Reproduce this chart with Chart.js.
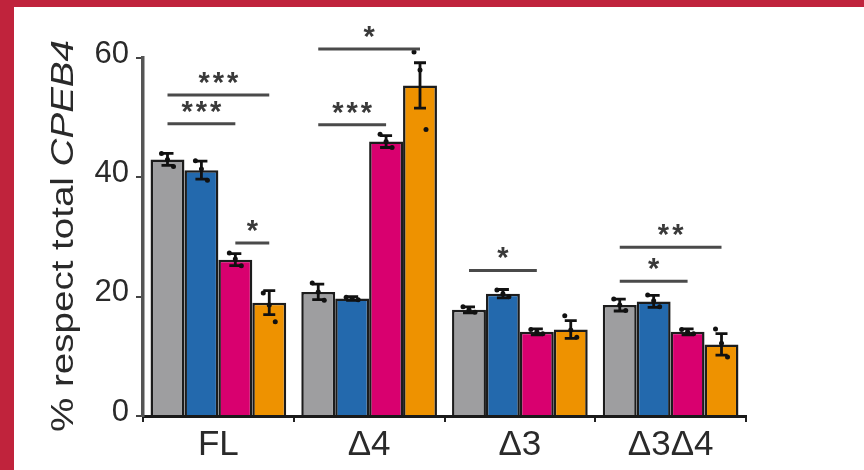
<!DOCTYPE html>
<html lang="en">
<head>
    <meta charset="UTF-8">
    <title>CPEB4 isoforms</title>
    <script src="https://cdn.jsdelivr.net/npm/chart.js"></script>
    <style>
        body { margin: 0; background: #fff; }
        canvas { display: block; }
    </style>
</head>
<body>
    <canvas id="myChart" width="864" height="470"></canvas>
    <script>
        // Categories and bar means
        const groups = ['FL', 'Δ4', 'Δ3', 'Δ3Δ4'];
        const grayMean = [43.0, 20.8, 17.8, 18.6];
        const blueMean = [41.2, 19.7, 20.5, 19.2];
        const pinkMean = [26.2, 46.0, 14.1, 14.1];
        const orangeMean = [19.0, 55.4, 14.5, 12.0];

        // Error bar half-heights
        const grayErr = [1.0, 1.3, 0.5, 1.0];
        const blueErr = [1.5, 0.3, 0.7, 1.0];
        const pinkErr = [1.0, 1.0, 0.5, 0.5];
        const orangeErr = [2.0, 3.8, 1.5, 1.8];

        // Individual replicates, one list per group
        const grayPts = [[44.0, 43.0, 41.8], [22.3, 20.8, 19.4], [18.3, 17.8, 17.4], [19.6, 18.6, 17.7]];
        const bluePts = [[42.8, 41.4, 39.5], [19.9, 19.7, 19.5], [21.1, 20.5, 20.0], [20.3, 19.3, 18.3]];
        const pinkPts = [[27.3, 26.3, 25.2], [47.2, 46.0, 45.0], [14.5, 14.1, 13.8], [14.5, 14.1, 13.8]];
        const orangePts = [[20.6, 18.6, 15.8], [61.0, 58.0, 48.0], [16.8, 14.4, 13.2], [14.6, 12.2, 9.9]];

        // Significance brackets: group, series from/to, height, label
        const brackets = [
            { group: 0, from: 0, to: 3, y: 53.8, label: '***' },
            { group: 0, from: 0, to: 2, y: 49.0, label: '***' },
            { group: 0, from: 2, to: 3, y: 29.0, label: '*' },
            { group: 1, from: 0, to: 3, y: 61.5, label: '*' },
            { group: 1, from: 0, to: 2, y: 48.8, label: '***' },
            { group: 2, from: 0, to: 2, y: 24.4, label: '*' },
            { group: 3, from: 0, to: 3, y: 28.3, label: '**' },
            { group: 3, from: 0, to: 2, y: 22.6, label: '*' }
        ];

        const colors = ['#9e9ea0', '#2369ad', '#d9006f', '#ee9200'];
        const means = [grayMean, blueMean, pinkMean, orangeMean];
        const errs = [grayErr, blueErr, pinkErr, orangeErr];
        const pts = [grayPts, bluePts, pinkPts, orangePts];
        const font = "'Liberation Sans', Arial, sans-serif";

        const decorations = {
            id: 'decorations',
            beforeDraw(chart) {
                const ctx = chart.ctx;
                ctx.save();
                ctx.fillStyle = '#fff';
                ctx.fillRect(0, 0, chart.width, chart.height);
                ctx.fillStyle = '#c0233c';
                ctx.fillRect(0, 0, chart.width, 7);
                ctx.fillRect(0, 0, 14, chart.height);
                ctx.restore();
            },
            afterDatasetsDraw(chart) {
                const ctx = chart.ctx;
                const y = chart.scales.y;
                ctx.save();
                // error bars and replicate dots
                means.forEach((m, s) => {
                    const meta = chart.getDatasetMeta(s);
                    meta.data.forEach((bar, g) => {
                        const x = bar.x;
                        const top = y.getPixelForValue(m[g] + errs[s][g]);
                        const bot = y.getPixelForValue(m[g] - errs[s][g]);
                        ctx.strokeStyle = '#111';
                        ctx.lineWidth = 2.8;
                        ctx.beginPath();
                        ctx.moveTo(x, top); ctx.lineTo(x, bot);
                        ctx.moveTo(x - 6, top); ctx.lineTo(x + 6, top);
                        ctx.moveTo(x - 6, bot); ctx.lineTo(x + 6, bot);
                        ctx.stroke();
                        ctx.fillStyle = '#111';
                        pts[s][g].forEach((v, i) => {
                            ctx.beginPath();
                            ctx.arc(x + (i - 1) * 6, y.getPixelForValue(v), 2.5, 0, Math.PI * 2);
                            ctx.fill();
                        });
                    });
                });
                // brackets
                ctx.strokeStyle = '#4a4a4a';
                ctx.fillStyle = '#3a3a3a';
                ctx.lineWidth = 3;
                ctx.font = 'bold 29px ' + font;
                ctx.letterSpacing = '3px';
                ctx.textAlign = 'center';
                ctx.textBaseline = 'alphabetic';
                brackets.forEach(b => {
                    const x1 = chart.getDatasetMeta(b.from).data[b.group].x;
                    const x2 = chart.getDatasetMeta(b.to).data[b.group].x;
                    const yy = y.getPixelForValue(b.y);
                    ctx.beginPath();
                    ctx.moveTo(x1, yy); ctx.lineTo(x2, yy);
                    ctx.stroke();
                    ctx.fillText(b.label, (x1 + x2) / 2 + 1.5, yy - 3);
                });
                ctx.letterSpacing = '0px';
                // y axis title with italic gene name
                const part1 = '% respect total ';
                const part2 = 'CPEB4';
                ctx.font = '31px ' + font;
                const w1 = ctx.measureText(part1).width;
                ctx.font = 'italic 31px ' + font;
                const w2 = ctx.measureText(part2).width;
                const total = w1 + w2;
                ctx.translate(64, 236);
                ctx.rotate(-Math.PI / 2);
                ctx.scale(392 / total, 1);
                ctx.fillStyle = '#2a2a2a';
                ctx.textAlign = 'left';
                ctx.textBaseline = 'middle';
                ctx.font = '31px ' + font;
                ctx.fillText(part1, -total / 2, 0);
                ctx.font = 'italic 31px ' + font;
                ctx.fillText(part2, -total / 2 + w1, 0);
                ctx.restore();
            }
        };

        const ctx = document.getElementById('myChart').getContext('2d');
        new Chart(ctx, {
            type: 'bar',
            data: {
                labels: groups,
                datasets: means.map((m, s) => ({
                    label: 'series ' + (s + 1),
                    data: m,
                    backgroundColor: colors[s],
                    borderColor: '#1c1c1c',
                    borderWidth: 2.5,
                    categoryPercentage: 0.9,
                    barPercentage: 1.0
                }))
            },
            options: {
                responsive: false,
                maintainAspectRatio: false,
                animation: false,
                layout: { padding: { top: 58, right: 118, left: 0, bottom: 0 } },
                plugins: {
                    legend: { display: false },
                    tooltip: { enabled: false }
                },
                scales: {
                    x: {
                        afterFit: scale => { scale.height = 54; },
                        grid: { display: true, drawOnChartArea: false, tickLength: 6, color: '#222', lineWidth: 2 },
                        border: { display: true, color: '#1a1a1a', width: 3 },
                        ticks: { color: '#2a2a2a', padding: 2, font: { family: font, size: 35 } }
                    },
                    y: {
                        min: 0,
                        max: 60,
                        afterFit: scale => { scale.width = 143; },
                        grid: { display: true, drawOnChartArea: false, tickLength: 7, color: '#444', lineWidth: 2 },
                        border: { display: true, color: '#555', width: 3.5 },
                        ticks: { stepSize: 20, color: '#2a2a2a', padding: 7, labelOffset: -4, font: { family: font, size: 31 } }
                    }
                }
            },
            plugins: [decorations]
        });
    </script>
</body>
</html>
